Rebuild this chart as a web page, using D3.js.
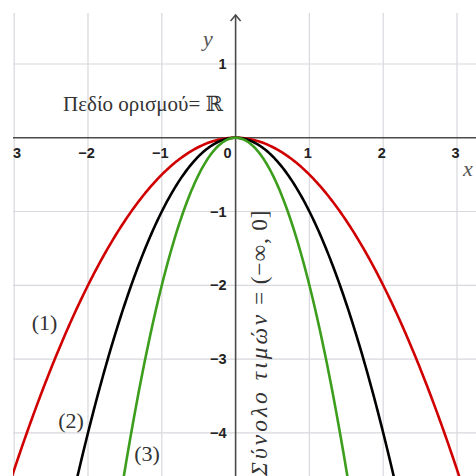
<!DOCTYPE html>
<html>
<head>
<meta charset="utf-8">
<script src="https://cdn.jsdelivr.net/npm/d3@7"></script>
<style>
  html, body { margin: 0; padding: 0; background: #fff; }
  svg { display: block; }
</style>
</head>
<body>
<svg id="chart" width="476" height="476"></svg>
<script>
// Parabolas y = a·x², one per coefficient
const coefficients = [-0.5, -1, -2];
const curveLabels = ["(1)", "(2)", "(3)"];
const curveColors = ["#d00000", "#000000", "#3c9e1c"];
// where each curve's label sits (in graph units)
const labelX = [-2.59, -2.23, -1.2];
const labelY = [-2.6, -3.94, -4.38];

const xTicks = [-3, -2, -1, 1, 2, 3];
const yTicks = [1, -1, -2, -3, -4];
const xTickLabels = ["\u22123", "\u22122", "\u22121", "1", "2", "3"];
const yTickLabels = ["1", "\u22121", "\u22122", "\u22123", "\u22124"];

const W = 476, H = 476;
const svg = d3.select("#chart");

const x = d3.scaleLinear().domain([-3, 3]).range([14.2, 457]);
const y = d3.scaleLinear().domain([-4, 1]).range([432.8, 64]);

const plotLeft = 13, plotTop = 13;

svg.append("defs").append("clipPath").attr("id", "plot")
  .append("rect").attr("x", plotLeft).attr("y", plotTop)
  .attr("width", W - plotLeft).attr("height", H - plotTop);

// grid
const grid = svg.append("g").attr("stroke", "#d8d8de").attr("stroke-width", 1.2);
const gridX = d3.range(-3, 4).filter(v => v !== 0);
const gridY = d3.range(-4, 2).filter(v => v !== 0);
grid.selectAll("line.gx").data(gridX).join("line")
  .attr("x1", d => x(d)).attr("x2", d => x(d))
  .attr("y1", plotTop).attr("y2", H);
grid.selectAll("line.gy").data(gridY).join("line")
  .attr("x1", plotLeft).attr("x2", W)
  .attr("y1", d => y(d)).attr("y2", d => y(d));

// axes
const axisColor = "#4a4a4a";
svg.append("line").attr("x1", plotLeft).attr("x2", W)
  .attr("y1", y(0)).attr("y2", y(0))
  .attr("stroke", axisColor).attr("stroke-width", 1.6);
svg.append("line").attr("x1", x(0)).attr("x2", x(0))
  .attr("y1", 15).attr("y2", H)
  .attr("stroke", axisColor).attr("stroke-width", 1.6);
svg.append("path")
  .attr("d", `M${x(0) - 5},${21} L${x(0)},${15} L${x(0) + 5},${21}`)
  .attr("fill", "none").attr("stroke", axisColor).attr("stroke-width", 1.5);

// tick labels
const tickFont = "'Liberation Sans', Arial, sans-serif";
const tickSize = 14.5;
svg.append("g").attr("clip-path", "url(#plot)")
  .selectAll("text").data(xTicks).join("text")
  .attr("x", d => x(d) - 1.5).attr("y", y(0) + 20)
  .attr("text-anchor", "middle")
  .attr("font-family", tickFont).attr("font-weight", "bold").attr("font-size", tickSize)
  .attr("fill", "#222")
  .text((d, i) => xTickLabels[i]);
svg.append("text").attr("x", x(0) - 8).attr("y", y(0) + 20)
  .attr("text-anchor", "middle")
  .attr("font-family", tickFont).attr("font-weight", "bold").attr("font-size", tickSize)
  .attr("fill", "#222").text("0");
svg.append("g").selectAll("text").data(yTicks).join("text")
  .attr("x", x(0) - 9).attr("y", d => y(d) + 5)
  .attr("text-anchor", "end")
  .attr("font-family", tickFont).attr("font-weight", "bold").attr("font-size", tickSize)
  .attr("fill", "#222")
  .text((d, i) => yTickLabels[i]);

// axis names
const serif = "'Liberation Serif', 'DejaVu Serif', serif";
svg.append("text").attr("x", 208).attr("y", 46)
  .attr("font-family", serif).attr("font-style", "italic").attr("font-size", 22)
  .attr("fill", "#555").attr("text-anchor", "middle").text("y");
svg.append("text").attr("x", 468).attr("y", 176)
  .attr("font-family", serif).attr("font-style", "italic").attr("font-size", 22)
  .attr("fill", "#555").attr("text-anchor", "middle").text("x");

// curves
const xs = d3.range(-3.2, 3.2001, 0.02);
const line = d3.line().x(d => x(d[0])).y(d => y(d[1]));
svg.append("g").attr("clip-path", "url(#plot)")
  .selectAll("path").data(coefficients).join("path")
  .attr("d", a => line(xs.map(v => [v, a * v * v])))
  .attr("fill", "none")
  .attr("stroke", (a, i) => curveColors[i])
  .attr("stroke-width", 2.6);

// curve labels
svg.append("g").selectAll("text").data(curveLabels).join("text")
  .attr("x", (d, i) => x(labelX[i])).attr("y", (d, i) => y(labelY[i]))
  .attr("text-anchor", "middle")
  .attr("font-family", serif).attr("font-size", 22).attr("fill", "#333")
  .text(d => d);

// domain note
svg.append("text").attr("x", 63).attr("y", 111)
  .attr("font-family", serif).attr("font-size", 21).attr("fill", "#333")
  .text("Πεδίο ορισμού= ℝ");

// range note, rotated along the y axis
const rangeText = svg.append("text")
  .attr("transform", `translate(${267},${476}) rotate(-90)`)
  .attr("font-family", serif).attr("font-size", 23.5).attr("fill", "#333");
rangeText.append("tspan").attr("font-style", "italic")
  .attr("letter-spacing", 3).text("Σύνολο τιμών");
rangeText.append("tspan").attr("letter-spacing", 0.8).text(" = (−∞, 0]");
</script>
</body>
</html>
